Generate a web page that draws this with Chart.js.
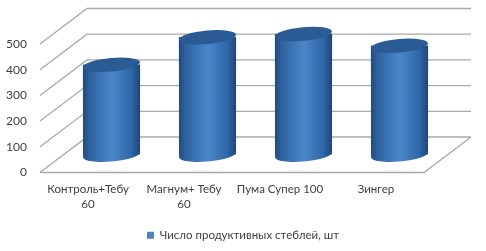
<!DOCTYPE html>
<html>
<head>
<meta charset="utf-8">
<style>
  html, body { margin: 0; padding: 0; background: #fff; }
  #wrap { width: 486px; height: 251px; }
  #stemsChart { filter: blur(0.35px); }
</style>
<script src="https://cdn.jsdelivr.net/npm/chart.js@4"></script>
</head>
<body>
<div id="wrap"><canvas id="stemsChart" width="486" height="251"></canvas></div>
<script>
const categories = [['Контроль+Тебу', '60'], ['Магнум+ Тебу', '60'], 'Пума Супер 100', 'Зингер'];
const stems = [350, 457, 470, 424];
const seriesName = 'Число продуктивных стеблей, шт';

// depth of the fake 3d box
const depthX = 47;
const depthY = -35.5;
const gridColor = '#a9a9a9';

function drawCylinder(ctx, bar) {
  const rx = bar.width / 2;
  const ry = 6.8;
  const tilt = -0.09;
  const left = bar.x - rx;

  const grad = ctx.createLinearGradient(left, 0, left + bar.width, 0);
  grad.addColorStop(0, '#1f4a7e');
  grad.addColorStop(0.12, '#2f639f');
  grad.addColorStop(0.5, '#4a87c9');
  grad.addColorStop(0.85, '#2f66a6');
  grad.addColorStop(1, '#1d4676');

  ctx.beginPath();
  ctx.ellipse(bar.x, bar.base, rx, ry, tilt, 0, Math.PI);
  ctx.lineTo(left, bar.y);
  ctx.lineTo(left + bar.width, bar.y);
  ctx.closePath();
  ctx.fillStyle = grad;
  ctx.fill();

  ctx.beginPath();
  ctx.ellipse(bar.x, bar.y, rx, ry, tilt, 0, Math.PI * 2);
  ctx.fillStyle = '#2a5b94';
  ctx.fill();
}

const box3d = {
  id: 'box3d',
  afterLayout(chart) {
    // legend is centred on the whole picture, not on the plot
    chart.legend.left = 0;
    chart.legend.right = 486;
    chart.legend.width = 486;
  },
  beforeDatasetsDraw(chart) {
    const { ctx, chartArea, scales } = chart;
    ctx.save();
    ctx.strokeStyle = gridColor;
    ctx.lineWidth = 1.3;
    scales.y.ticks.forEach(function(tick) {
      const y = scales.y.getPixelForValue(tick.value);
      ctx.beginPath();
      ctx.moveTo(chartArea.left, y);
      ctx.lineTo(chartArea.left + depthX, y + depthY);
      ctx.lineTo(chartArea.right + depthX, y + depthY);
      ctx.stroke();
    });
    // floor
    const y0 = scales.y.getPixelForValue(0);
    ctx.beginPath();
    ctx.moveTo(chartArea.left, y0);
    ctx.lineTo(chartArea.right, y0);
    ctx.lineTo(chartArea.right + depthX, y0 + depthY);
    ctx.stroke();
    ctx.restore();
  },
  beforeDatasetDraw(chart) {
    chart.ctx.save();
    chart.ctx.translate(depthX / 2, depthY / 2);
  },
  afterDatasetDraw(chart, args) {
    args.meta.data.forEach(function(bar) {
      drawCylinder(chart.ctx, bar);
    });
    chart.ctx.restore();
  }
};

const stemsChart = new Chart(document.getElementById('stemsChart').getContext('2d'), {
  type: 'bar',
  data: {
    labels: categories,
    datasets: [{
      label: seriesName,
      data: stems,
      backgroundColor: '#4f81bd',
      barPercentage: 0.595,
      categoryPercentage: 1,
      clip: false
    }]
  },
  options: {
    responsive: false,
    animation: false,
    layout: { padding: { top: 44, right: 62, left: 0, bottom: 0 } },
    plugins: {
      tooltip: { enabled: false },
      legend: {
        position: 'bottom',
        labels: {
          boxWidth: 7,
          boxHeight: 7,
          color: '#404040',
          font: { family: 'Lato', size: 11.5 },
          padding: 5
        }
      }
    },
    scales: {
      x: {
        grid: { display: false },
        border: { display: false },
        ticks: {
          color: '#404040',
          font: { family: 'Lato', size: 11.5, lineHeight: 1.35 },
          maxRotation: 0,
          padding: 1
        },
        afterFit(scale) { scale.height = 52; }
      },
      y: {
        min: 0,
        max: 500,
        grid: { display: false },
        border: { display: false },
        ticks: {
          stepSize: 100,
          color: '#404040',
          font: { family: 'Lato', size: 12 },
          padding: 5
        },
        afterFit(scale) { scale.width = 40; }
      }
    }
  },
  plugins: [box3d]
});
</script>
</body>
</html>
